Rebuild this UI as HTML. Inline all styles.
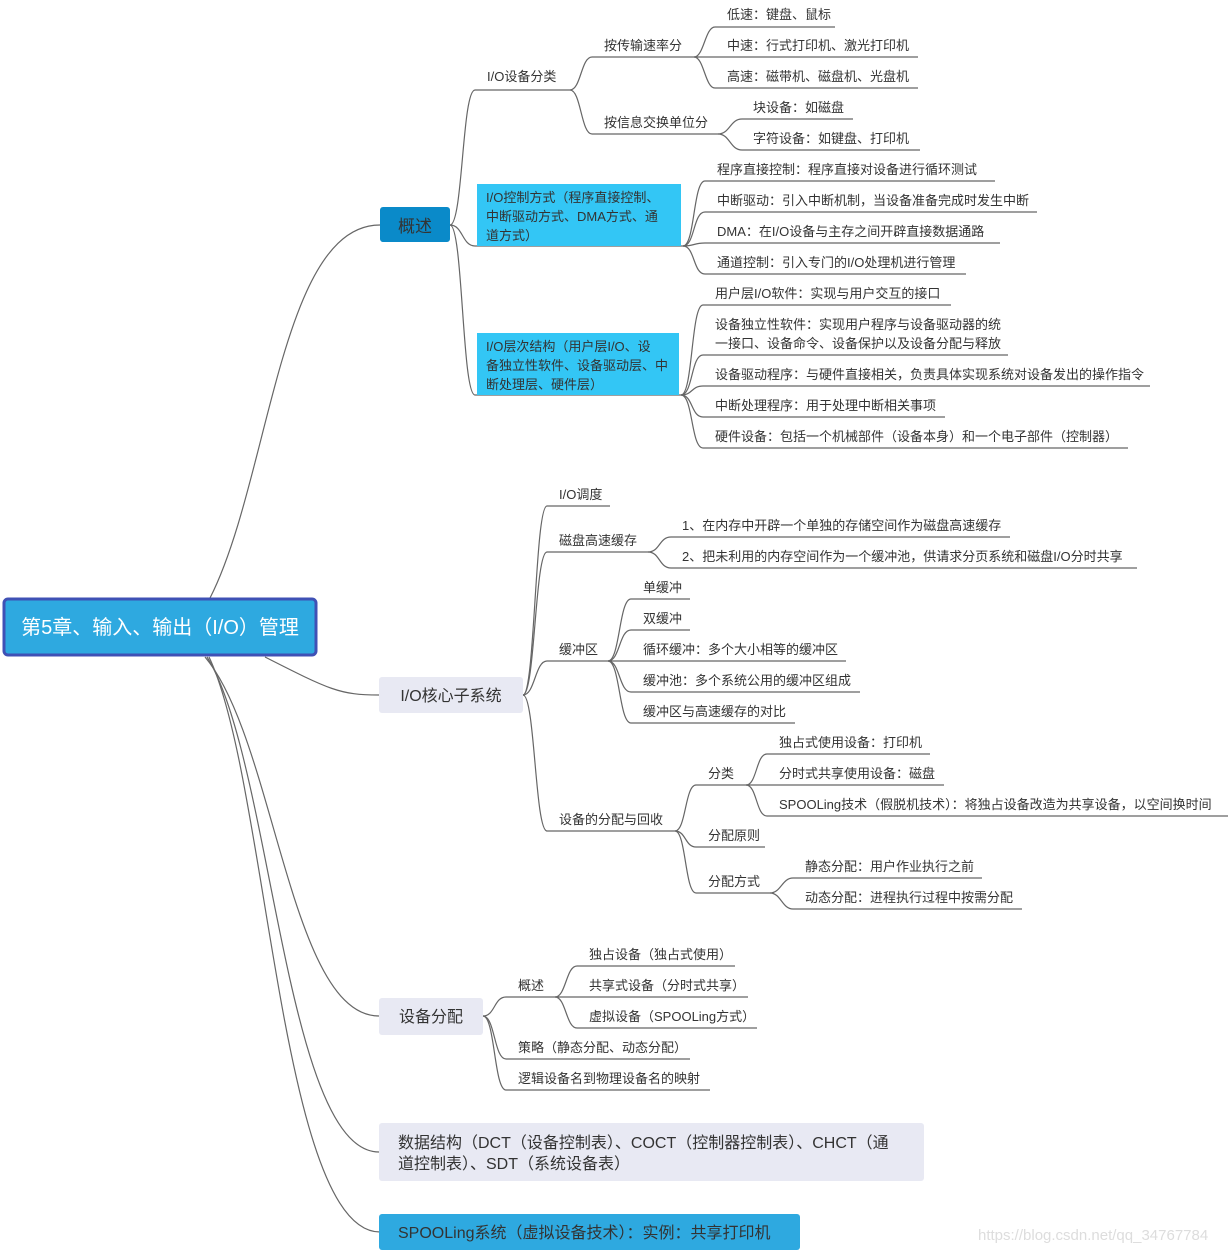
<!DOCTYPE html>
<html><head><meta charset="utf-8"><style>
html,body{margin:0;padding:0;background:#fff;}
svg{display:block;}
text{font-family:"Liberation Sans","Noto Sans CJK SC",sans-serif;fill:#333;font-size:13px;}
.l{fill:none;stroke:#666;stroke-width:1.2;}
</style></head><body>
<svg width="1230" height="1252" viewBox="0 0 1230 1252" xmlns="http://www.w3.org/2000/svg">
<!-- root connectors -->
<path class="l" d="M210,598 C270,480 280,225 380,225"/>
<path class="l" d="M265,657 C330,690 340,695 379,695"/>
<path class="l" d="M205,657 C275,740 290,1016 379,1016"/>
<path class="l" d="M207,657 C272,760 285,1152 379,1152"/>
<path class="l" d="M209,657 C268,780 280,1232 380,1232"/>

<!-- 概述 -->
<path class="l" d="M450,225 C463,225 462,90 475,90 L570,90"/>
<path class="l" d="M450,225 C463,225 462,246 475,246 L683,246"/>
<path class="l" d="M450,225 C463,225 462,395 475,395 L681,395"/>
<!-- 设备分类 -->
<path class="l" d="M570,90 C581,90 581,57 592,57 L694,57"/>
<path class="l" d="M570,90 C581,90 581,134 592,134 L718,134"/>
<path class="l" d="M694,57 C704,57 705,27 715,27 L835,27"/>
<path class="l" d="M694,57 L918,57"/>
<path class="l" d="M694,57 C704,57 705,88 715,88 L918,88"/>
<path class="l" d="M718,134 C730,134 730,119 742,119 L853,119"/>
<path class="l" d="M718,134 C730,134 730,150 742,150 L920,150"/>
<!-- 控制方式 -->
<path class="l" d="M683,246 C695,246 693,181 705,181 L995,181"/>
<path class="l" d="M683,246 C695,246 693,212 705,212 L1037,212"/>
<path class="l" d="M683,246 C695,246 693,243 705,243 L1000,243"/>
<path class="l" d="M683,246 C695,246 693,274 705,274 L966,274"/>
<!-- 层次结构 -->
<path class="l" d="M681,395 C693,395 691,305 703,305 L951,305"/>
<path class="l" d="M681,395 C693,395 691,355 703,355 L1008,355"/>
<path class="l" d="M681,395 C693,395 691,386 703,386 L1150,386"/>
<path class="l" d="M681,395 C693,395 691,417 703,417 L945,417"/>
<path class="l" d="M681,395 C693,395 691,448 703,448 L1128,448"/>

<!-- I/O核心子系统 -->
<path class="l" d="M523,695 C535,695 535,506 547,506 L610,506"/>
<path class="l" d="M523,695 C535,695 535,552 547,552 L648,552"/>
<path class="l" d="M523,695 C535,695 535,661 547,661 L608,661"/>
<path class="l" d="M523,695 C535,695 535,831 547,831 L675,831"/>
<path class="l" d="M648,552 C660,552 659,537 671,537 L1010,537"/>
<path class="l" d="M648,552 C660,552 659,568 671,568 L1137,568"/>
<path class="l" d="M608,661 C620,661 619,599 631,599 L690,599"/>
<path class="l" d="M608,661 C620,661 619,630 631,630 L690,630"/>
<path class="l" d="M608,661 L846,661"/>
<path class="l" d="M608,661 C620,661 619,692 631,692 L860,692"/>
<path class="l" d="M608,661 C620,661 619,723 631,723 L795,723"/>
<path class="l" d="M675,831 C686,831 685,785 696,785 L746,785"/>
<path class="l" d="M675,831 C686,831 685,847 696,847 L765,847"/>
<path class="l" d="M675,831 C686,831 685,893 696,893 L770,893"/>
<path class="l" d="M746,785 C757,785 756,754 767,754 L930,754"/>
<path class="l" d="M746,785 L944,785"/>
<path class="l" d="M746,785 C757,785 756,816 767,816 L1228,816"/>
<path class="l" d="M770,893 C781,893 782,878 793,878 L982,878"/>
<path class="l" d="M770,893 C781,893 782,909 793,909 L1022,909"/>

<!-- 设备分配 -->
<path class="l" d="M483,1016 C495,1016 494,997 506,997 L555,997"/>
<path class="l" d="M483,1016 C495,1016 494,1059 506,1059 L690,1059"/>
<path class="l" d="M483,1016 C495,1016 494,1090 506,1090 L710,1090"/>
<path class="l" d="M555,997 C566,997 566,966 577,966 L735,966"/>
<path class="l" d="M555,997 L748,997"/>
<path class="l" d="M555,997 C566,997 566,1028 577,1028 L757,1028"/>

<!-- boxes -->
<rect x="4" y="599" width="312" height="56" rx="4" fill="#2ea9e0" stroke="#3f51b5" stroke-width="3"/>
<text x="160" y="634" text-anchor="middle" style="fill:#fff;font-size:20px">第5章、输入、输出（I/O）管理</text>
<rect x="380" y="207" width="70" height="35" rx="3" fill="#0a8ac9"/>
<text x="415" y="232" text-anchor="middle" style="font-size:17px">概述</text>
<rect x="477" y="184" width="204" height="62" fill="#33c6f5"/>
<text x="486" y="202">I/O控制方式（程序直接控制、</text>
<text x="486" y="221">中断驱动方式、DMA方式、通</text>
<text x="486" y="240">道方式）</text>
<rect x="477" y="333" width="202" height="62" fill="#33c6f5"/>
<text x="486" y="351">I/O层次结构（用户层I/O、设</text>
<text x="486" y="370">备独立性软件、设备驱动层、中</text>
<text x="486" y="389">断处理层、硬件层）</text>
<rect x="379" y="677" width="144" height="36" rx="3" fill="#e8e9f3"/>
<text x="451" y="701" text-anchor="middle" style="font-size:16px">I/O核心子系统</text>
<rect x="379" y="998" width="104" height="37" rx="3" fill="#e8e9f3"/>
<text x="431" y="1022" text-anchor="middle" style="font-size:16px">设备分配</text>
<rect x="379" y="1123" width="545" height="58" rx="3" fill="#e8e9f3"/>
<text x="398" y="1148" style="font-size:16px">数据结构（DCT（设备控制表）、COCT（控制器控制表）、CHCT（通</text>
<text x="398" y="1169" style="font-size:16px">道控制表）、SDT（系统设备表）</text>
<rect x="379" y="1214" width="421" height="36" rx="3" fill="#2ea9e0"/>
<text x="398" y="1238" style="font-size:16px">SPOOLing系统（虚拟设备技术）：实例：共享打印机</text>

<!-- texts -->
<text x="487" y="81">I/O设备分类</text>
<text x="604" y="50">按传输速率分</text>
<text x="604" y="127">按信息交换单位分</text>
<text x="727" y="19">低速：键盘、鼠标</text>
<text x="727" y="50">中速：行式打印机、激光打印机</text>
<text x="727" y="81">高速：磁带机、磁盘机、光盘机</text>
<text x="753" y="112">块设备：如磁盘</text>
<text x="753" y="143">字符设备：如键盘、打印机</text>
<text x="717" y="174">程序直接控制：程序直接对设备进行循环测试</text>
<text x="717" y="205">中断驱动：引入中断机制，当设备准备完成时发生中断</text>
<text x="717" y="236">DMA：在I/O设备与主存之间开辟直接数据通路</text>
<text x="717" y="267">通道控制：引入专门的I/O处理机进行管理</text>
<text x="715" y="298">用户层I/O软件：实现与用户交互的接口</text>
<text x="715" y="329">设备独立性软件：实现用户程序与设备驱动器的统</text>
<text x="715" y="348">一接口、设备命令、设备保护以及设备分配与释放</text>
<text x="715" y="379">设备驱动程序：与硬件直接相关，负责具体实现系统对设备发出的操作指令</text>
<text x="715" y="410">中断处理程序：用于处理中断相关事项</text>
<text x="715" y="441">硬件设备：包括一个机械部件（设备本身）和一个电子部件（控制器）</text>

<text x="559" y="499">I/O调度</text>
<text x="559" y="545">磁盘高速缓存</text>
<text x="682" y="530">1、在内存中开辟一个单独的存储空间作为磁盘高速缓存</text>
<text x="682" y="561">2、把未利用的内存空间作为一个缓冲池，供请求分页系统和磁盘I/O分时共享</text>
<text x="559" y="654">缓冲区</text>
<text x="643" y="592">单缓冲</text>
<text x="643" y="623">双缓冲</text>
<text x="643" y="654">循环缓冲：多个大小相等的缓冲区</text>
<text x="643" y="685">缓冲池：多个系统公用的缓冲区组成</text>
<text x="643" y="716">缓冲区与高速缓存的对比</text>
<text x="559" y="824">设备的分配与回收</text>
<text x="708" y="778">分类</text>
<text x="779" y="747">独占式使用设备：打印机</text>
<text x="779" y="778">分时式共享使用设备：磁盘</text>
<text x="779" y="809">SPOOLing技术（假脱机技术）：将独占设备改造为共享设备，以空间换时间</text>
<text x="708" y="840">分配原则</text>
<text x="708" y="886">分配方式</text>
<text x="805" y="871">静态分配：用户作业执行之前</text>
<text x="805" y="902">动态分配：进程执行过程中按需分配</text>

<text x="518" y="990">概述</text>
<text x="589" y="959">独占设备（独占式使用）</text>
<text x="589" y="990">共享式设备（分时式共享）</text>
<text x="589" y="1021">虚拟设备（SPOOLing方式）</text>
<text x="518" y="1052">策略（静态分配、动态分配）</text>
<text x="518" y="1083">逻辑设备名到物理设备名的映射</text>

<text x="978" y="1240" style="fill:#ddd;font-size:15px">https://blog.csdn.net/qq_34767784</text>
</svg>
</body></html>
